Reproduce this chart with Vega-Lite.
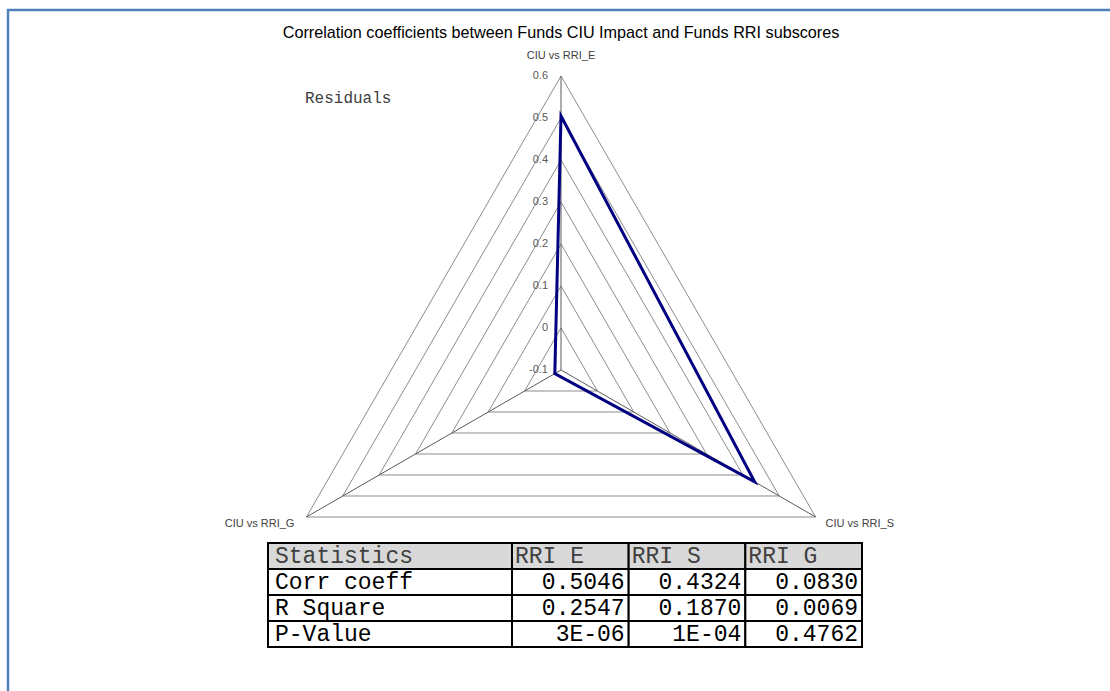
{
  "$schema": "https://vega.github.io/schema/vega-lite/v6.json",
  "width": 1102,
  "height": 681,
  "autosize": {"type": "none"},
  "padding": {"left": 8, "top": 10, "right": 0, "bottom": 0},
  "background": "white",
  "config": {
    "view": {"stroke": "#4F81BD", "strokeWidth": 2.5, "strokeDash": [1102, 1783, 681]},
    "font": "Liberation Sans",
    "legend": {
      "orient": "none", "legendX": 281, "legendY": 80, "title": null,
      "symbolSize": 0, "symbolStrokeWidth": 0, "symbolOpacity": 0, "labelOffset": 0,
      "labelFont": "Liberation Mono", "labelFontSize": 16, "labelColor": "#404040"
    }
  },
  "title": {
    "text": "Correlation coefficients between Funds CIU Impact and Funds RRI subscores",
    "font": "Liberation Sans", "fontSize": 16.2, "fontWeight": "normal",
    "color": "#000000", "anchor": "middle", "offset": -31, "dx": 2
  },
  "datasets": {
    "radar": [
      {"series": "Residuals", "axis": "CIU vs RRI_E", "order": 1, "value": 0.5046},
      {"series": "Residuals", "axis": "CIU vs RRI_S", "order": 2, "value": 0.4324},
      {"series": "Residuals", "axis": "CIU vs RRI_G", "order": 3, "value": -0.083}
    ],
    "grid": [
      {"level": -0.1, "order": 1}, {"level": -0.1, "order": 2}, {"level": -0.1, "order": 3},
      {"level": 0, "order": 1}, {"level": 0, "order": 2}, {"level": 0, "order": 3},
      {"level": 0.1, "order": 1}, {"level": 0.1, "order": 2}, {"level": 0.1, "order": 3},
      {"level": 0.2, "order": 1}, {"level": 0.2, "order": 2}, {"level": 0.2, "order": 3},
      {"level": 0.3, "order": 1}, {"level": 0.3, "order": 2}, {"level": 0.3, "order": 3},
      {"level": 0.4, "order": 1}, {"level": 0.4, "order": 2}, {"level": 0.4, "order": 3},
      {"level": 0.5, "order": 1}, {"level": 0.5, "order": 2}, {"level": 0.5, "order": 3},
      {"level": 0.6, "order": 1}, {"level": 0.6, "order": 2}, {"level": 0.6, "order": 3}
    ],
    "table": [
      {"row": "Statistics", "col": "Statistics", "text": "Statistics"},
      {"row": "Corr coeff", "col": "Statistics", "text": "Corr coeff"},
      {"row": "R Square", "col": "Statistics", "text": "R Square"},
      {"row": "P-Value", "col": "Statistics", "text": "P-Value"},
      {"row": "Statistics", "col": "RRI E", "text": "RRI E"},
      {"row": "Statistics", "col": "RRI S", "text": "RRI S"},
      {"row": "Statistics", "col": "RRI G", "text": "RRI G"},
      {"row": "Corr coeff", "col": "RRI E", "text": "0.5046"},
      {"row": "Corr coeff", "col": "RRI S", "text": "0.4324"},
      {"row": "Corr coeff", "col": "RRI G", "text": "0.0830"},
      {"row": "R Square", "col": "RRI E", "text": "0.2547"},
      {"row": "R Square", "col": "RRI S", "text": "0.1870"},
      {"row": "R Square", "col": "RRI G", "text": "0.0069"},
      {"row": "P-Value", "col": "RRI E", "text": "3E-06"},
      {"row": "P-Value", "col": "RRI S", "text": "1E-04"},
      {"row": "P-Value", "col": "RRI G", "text": "0.4762"}
    ]
  },
  "layer": [
    {
      "layer": [
        {
          "data": {"name": "grid"},
          "transform": [
            {"calculate": "PI / 2 - (datum.order - 1) * 2 * PI / 3", "as": "angle"},
            {"calculate": "(datum.level + 0.1) * cos(datum.angle)", "as": "px"},
            {"calculate": "(datum.level + 0.1) * sin(datum.angle)", "as": "py"}
          ],
          "mark": {"type": "line", "interpolate": "linear-closed", "stroke": "#8c8c8c", "strokeWidth": 1},
          "encoding": {
            "x": {"field": "px", "type": "quantitative", "scale": {"domain": [-1.31667, 1.30714], "nice": false, "zero": false}, "axis": null},
            "y": {"field": "py", "type": "quantitative", "scale": {"domain": [-0.76429, 0.85714], "nice": false, "zero": false}, "axis": null},
            "detail": {"field": "level", "type": "nominal"},
            "order": {"field": "order", "type": "quantitative"}
          }
        },
        {
          "data": {"name": "radar"},
          "transform": [
            {"calculate": "PI / 2 - (datum.order - 1) * 2 * PI / 3", "as": "angle"},
            {"calculate": "0.7 * cos(datum.angle)", "as": "px"},
            {"calculate": "0.7 * sin(datum.angle)", "as": "py"},
            {"calculate": "0", "as": "cx"},
            {"calculate": "0", "as": "cy"}
          ],
          "mark": {"type": "rule", "stroke": "#5a5a5a", "strokeWidth": 1},
          "encoding": {
            "x": {"field": "px", "type": "quantitative", "scale": {"domain": [-1.31667, 1.30714], "nice": false, "zero": false}, "axis": null},
            "y": {"field": "py", "type": "quantitative", "scale": {"domain": [-0.76429, 0.85714], "nice": false, "zero": false}, "axis": null},
            "x2": {"field": "cx"},
            "y2": {"field": "cy"}
          }
        },
        {
          "data": {"name": "radar"},
          "transform": [
            {"calculate": "PI / 2 - (datum.order - 1) * 2 * PI / 3", "as": "angle"},
            {"calculate": "(datum.value + 0.1) * cos(datum.angle)", "as": "px"},
            {"calculate": "(datum.value + 0.1) * sin(datum.angle)", "as": "py"}
          ],
          "mark": {"type": "line", "interpolate": "linear-closed", "strokeWidth": 3},
          "encoding": {
            "x": {"field": "px", "type": "quantitative", "scale": {"domain": [-1.31667, 1.30714], "nice": false, "zero": false}, "axis": null},
            "y": {"field": "py", "type": "quantitative", "scale": {"domain": [-0.76429, 0.85714], "nice": false, "zero": false}, "axis": null},
            "stroke": {"field": "series", "type": "nominal", "scale": {"range": ["#000080"]}},
            "order": {"field": "order", "type": "quantitative"}
          }
        },
        {
          "data": {"name": "grid"},
          "transform": [
            {"filter": "datum.order === 1"},
            {"calculate": "0", "as": "px"},
            {"calculate": "datum.level + 0.1", "as": "py"}
          ],
          "mark": {"type": "text", "align": "right", "baseline": "middle", "dx": -13, "fontSize": 11, "color": "#595959"},
          "encoding": {
            "x": {"field": "px", "type": "quantitative", "scale": {"domain": [-1.31667, 1.30714], "nice": false, "zero": false}, "axis": null},
            "y": {"field": "py", "type": "quantitative", "scale": {"domain": [-0.76429, 0.85714], "nice": false, "zero": false}, "axis": null},
            "text": {"field": "level", "type": "nominal"}
          }
        },
        {
          "data": {"name": "radar"},
          "transform": [
            {"filter": "datum.order === 1"},
            {"calculate": "PI / 2 - (datum.order - 1) * 2 * PI / 3", "as": "angle"},
            {"calculate": "0.7 * cos(datum.angle)", "as": "px"},
            {"calculate": "0.7 * sin(datum.angle)", "as": "py"}
          ],
          "mark": {"type": "text", "align": "center", "baseline": "middle", "dy": -20, "fontSize": 11, "color": "#404040"},
          "encoding": {
            "x": {"field": "px", "type": "quantitative", "scale": {"domain": [-1.31667, 1.30714], "nice": false, "zero": false}, "axis": null},
            "y": {"field": "py", "type": "quantitative", "scale": {"domain": [-0.76429, 0.85714], "nice": false, "zero": false}, "axis": null},
            "text": {"field": "axis", "type": "nominal"}
          }
        },
        {
          "data": {"name": "radar"},
          "transform": [
            {"filter": "datum.order === 2"},
            {"calculate": "PI / 2 - (datum.order - 1) * 2 * PI / 3", "as": "angle"},
            {"calculate": "0.7 * cos(datum.angle)", "as": "px"},
            {"calculate": "0.7 * sin(datum.angle)", "as": "py"}
          ],
          "mark": {"type": "text", "align": "left", "baseline": "middle", "dx": 10, "dy": 7, "fontSize": 11, "color": "#404040"},
          "encoding": {
            "x": {"field": "px", "type": "quantitative", "scale": {"domain": [-1.31667, 1.30714], "nice": false, "zero": false}, "axis": null},
            "y": {"field": "py", "type": "quantitative", "scale": {"domain": [-0.76429, 0.85714], "nice": false, "zero": false}, "axis": null},
            "text": {"field": "axis", "type": "nominal"}
          }
        },
        {
          "data": {"name": "radar"},
          "transform": [
            {"filter": "datum.order === 3"},
            {"calculate": "PI / 2 - (datum.order - 1) * 2 * PI / 3", "as": "angle"},
            {"calculate": "0.7 * cos(datum.angle)", "as": "px"},
            {"calculate": "0.7 * sin(datum.angle)", "as": "py"}
          ],
          "mark": {"type": "text", "align": "right", "baseline": "middle", "dx": -12, "dy": 7, "fontSize": 11, "color": "#404040"},
          "encoding": {
            "x": {"field": "px", "type": "quantitative", "scale": {"domain": [-1.31667, 1.30714], "nice": false, "zero": false}, "axis": null},
            "y": {"field": "py", "type": "quantitative", "scale": {"domain": [-0.76429, 0.85714], "nice": false, "zero": false}, "axis": null},
            "text": {"field": "axis", "type": "nominal"}
          }
        }
      ]
    },
    {
      "data": {"name": "table"},
      "transform": [{"filter": "datum.col === 'Statistics'"}],
      "layer": [
        {
          "mark": {"type": "rect", "stroke": "#000000", "strokeWidth": 2},
          "encoding": {
            "x": {"field": "col", "type": "nominal", "scale": {"domain": ["Statistics"], "range": [260, 504], "paddingInner": 0, "paddingOuter": 0}, "axis": null},
            "y": {"field": "row", "type": "nominal", "scale": {"domain": ["Statistics", "Corr coeff", "R Square", "P-Value"], "range": [533, 637], "paddingInner": 0, "paddingOuter": 0}, "axis": null},
            "fill": {"condition": {"test": "datum.row === 'Statistics'", "value": "#d9d9d9"}, "value": "#ffffff"}
          }
        },
        {
          "mark": {"type": "text", "align": "left", "baseline": "middle", "dx": 7, "font": "Liberation Mono", "fontSize": 23},
          "encoding": {
            "x": {"field": "col", "type": "nominal", "bandPosition": 0, "scale": {"domain": ["Statistics"], "range": [260, 504], "paddingInner": 0, "paddingOuter": 0}, "axis": null},
            "y": {"field": "row", "type": "nominal", "scale": {"domain": ["Statistics", "Corr coeff", "R Square", "P-Value"], "range": [533, 637], "paddingInner": 0, "paddingOuter": 0}, "axis": null},
            "text": {"field": "text", "type": "nominal"},
            "color": {"condition": {"test": "datum.row === 'Statistics'", "value": "#404040"}, "value": "#000000"}
          }
        }
      ]
    },
    {
      "data": {"name": "table"},
      "transform": [{"filter": "datum.col !== 'Statistics'"}],
      "layer": [
        {
          "mark": {"type": "rect", "stroke": "#000000", "strokeWidth": 2},
          "encoding": {
            "x": {"field": "col", "type": "nominal", "scale": {"domain": ["RRI E", "RRI S", "RRI G"], "range": [504, 854], "paddingInner": 0, "paddingOuter": 0}, "axis": null},
            "y": {"field": "row", "type": "nominal", "scale": {"domain": ["Statistics", "Corr coeff", "R Square", "P-Value"], "range": [533, 637], "paddingInner": 0, "paddingOuter": 0}, "axis": null},
            "fill": {"condition": {"test": "datum.row === 'Statistics'", "value": "#d9d9d9"}, "value": "#ffffff"}
          }
        },
        {
          "transform": [{"filter": "datum.row === 'Statistics'"}],
          "mark": {"type": "text", "align": "left", "baseline": "middle", "dx": 3, "font": "Liberation Mono", "fontSize": 23, "color": "#404040"},
          "encoding": {
            "x": {"field": "col", "type": "nominal", "bandPosition": 0, "scale": {"domain": ["RRI E", "RRI S", "RRI G"], "range": [504, 854], "paddingInner": 0, "paddingOuter": 0}, "axis": null},
            "y": {"field": "row", "type": "nominal", "scale": {"domain": ["Statistics", "Corr coeff", "R Square", "P-Value"], "range": [533, 637], "paddingInner": 0, "paddingOuter": 0}, "axis": null},
            "text": {"field": "text", "type": "nominal"}
          }
        },
        {
          "transform": [{"filter": "datum.row !== 'Statistics'"}],
          "mark": {"type": "text", "align": "right", "baseline": "middle", "dx": -4, "font": "Liberation Mono", "fontSize": 23, "color": "#000000"},
          "encoding": {
            "x": {"field": "col", "type": "nominal", "bandPosition": 1, "scale": {"domain": ["RRI E", "RRI S", "RRI G"], "range": [504, 854], "paddingInner": 0, "paddingOuter": 0}, "axis": null},
            "y": {"field": "row", "type": "nominal", "scale": {"domain": ["Statistics", "Corr coeff", "R Square", "P-Value"], "range": [533, 637], "paddingInner": 0, "paddingOuter": 0}, "axis": null},
            "text": {"field": "text", "type": "nominal"}
          }
        }
      ]
    }
  ],
  "resolve": {"scale": {"x": "independent", "y": "independent"}}
}
